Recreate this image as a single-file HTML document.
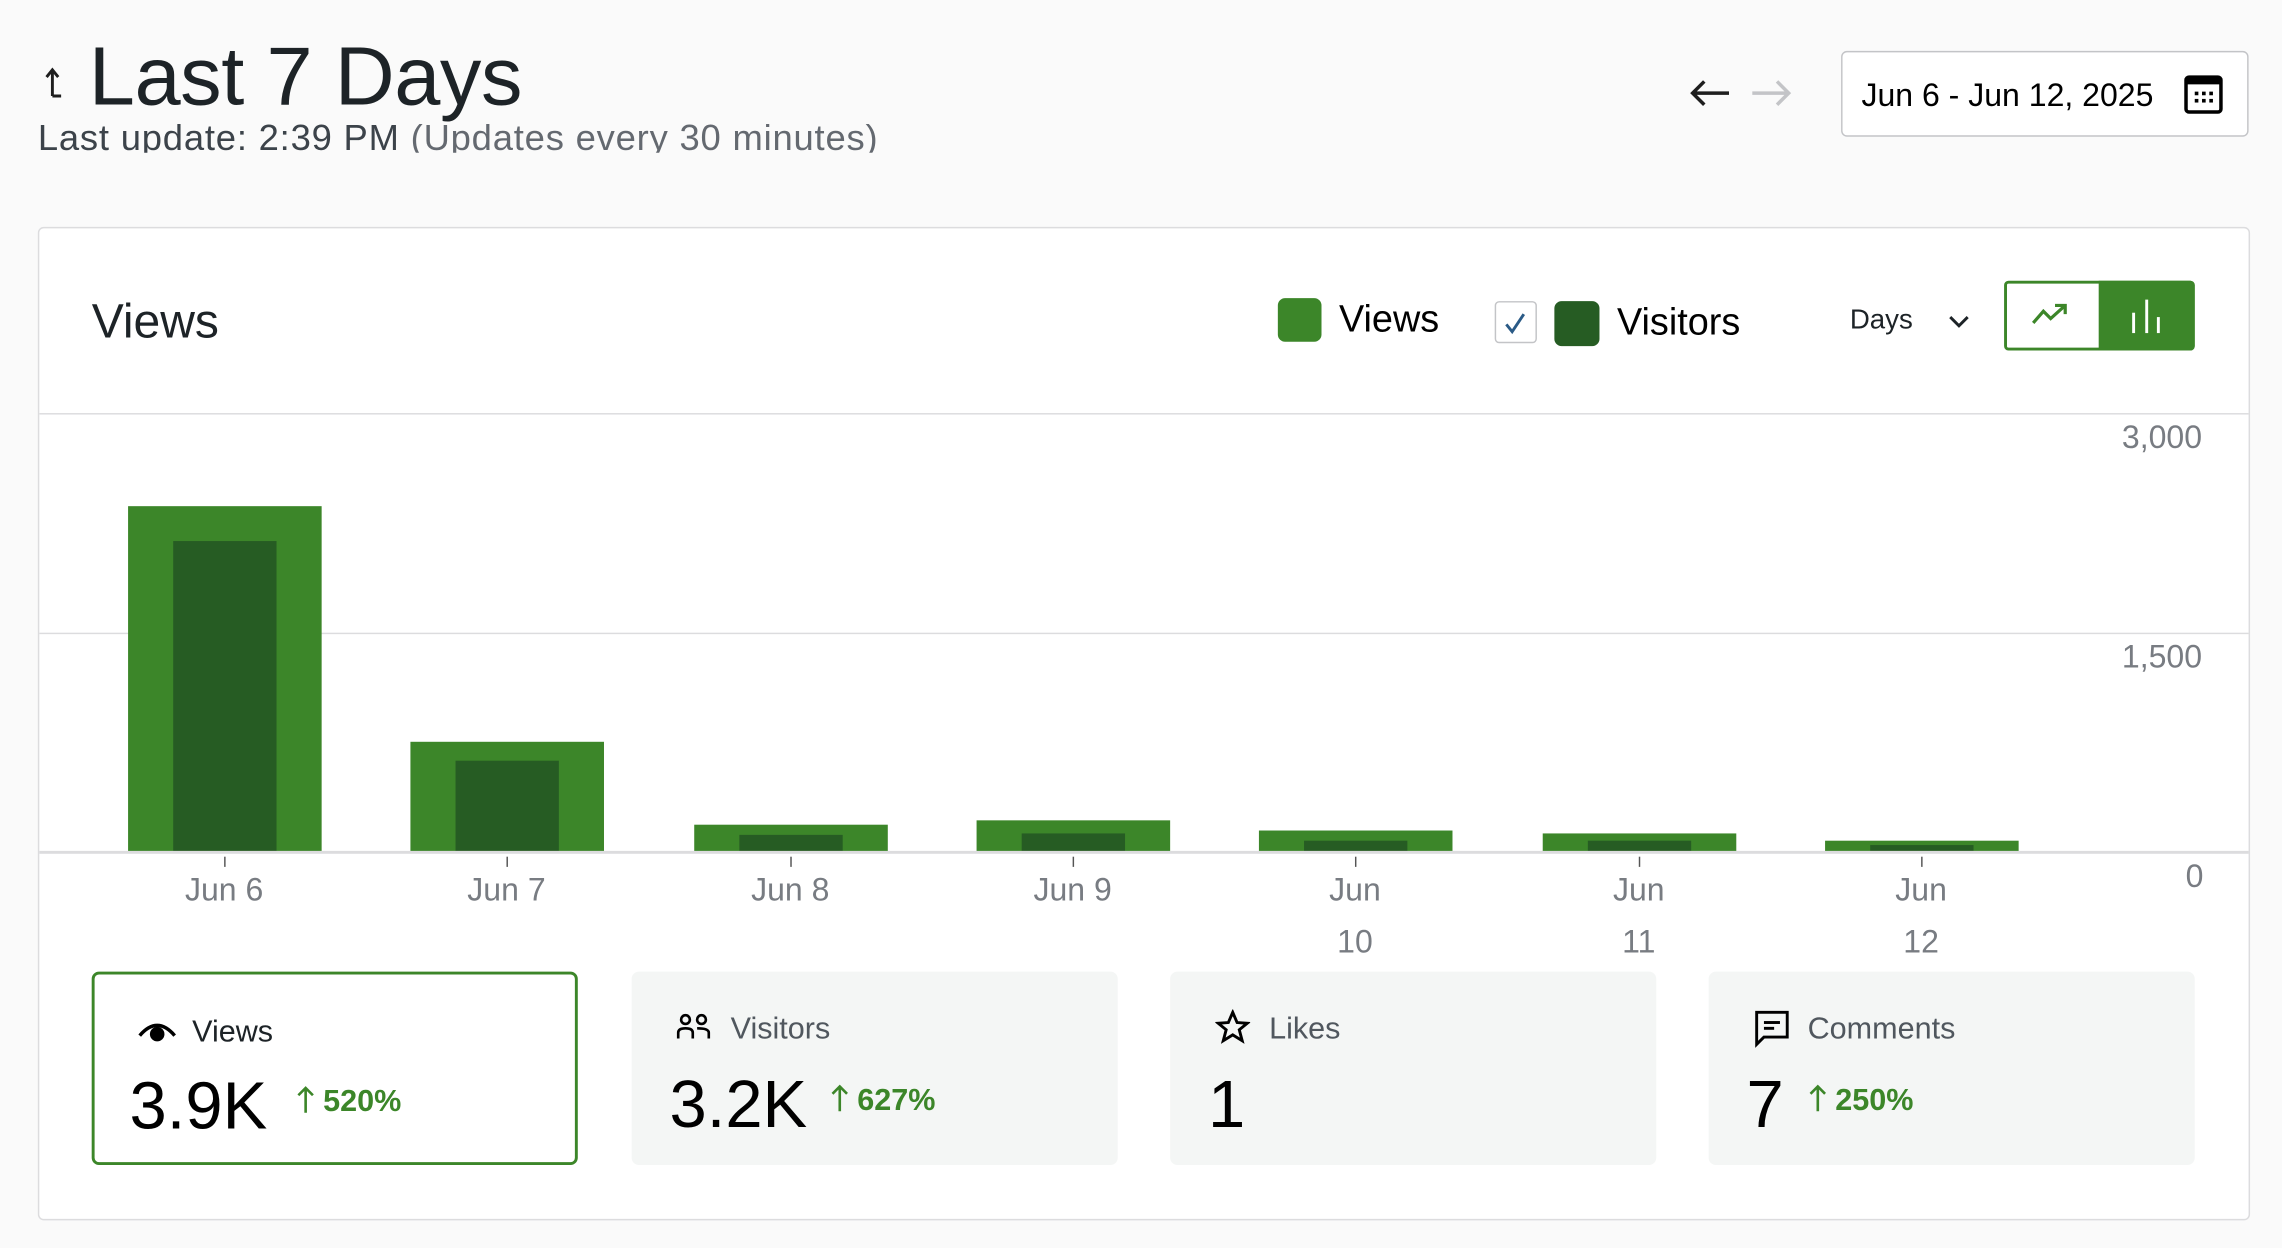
<!DOCTYPE html>
<html><head><meta charset="utf-8"><style>
html,body{margin:0;padding:0;background:#fafafa;}
body{width:2282px;height:1248px;overflow:hidden;font-family:"Liberation Sans",sans-serif;}
#s{position:absolute;left:0;top:0;width:1568px;height:858px;transform:scale(1.4554,1.4545);transform-origin:0 0;}
.a{position:absolute;white-space:nowrap;}
.yl{position:absolute;right:55px;color:#787c82;font-size:22px;}
.xl{position:absolute;width:80px;margin-left:-40px;text-align:center;color:#787c82;font-size:22px;line-height:36px;}
.tk{position:absolute;top:589px;width:1px;height:7px;background:#555;}
.ob{position:absolute;background:#3c8629;width:133px;}
.ib{position:absolute;background:#265c23;width:71px;}
.card{position:absolute;top:668px;width:334px;height:133px;background:#f4f6f5;border-radius:5px;box-sizing:border-box;}
.lab{position:absolute;left:68px;top:28px;font-size:21px;color:#50575e;}
.val{position:absolute;left:26px;top:64px;font-size:46px;color:#000;}
.pct{position:absolute;top:77px;font-size:21px;font-weight:bold;color:#3c8629;}
.pct svg{vertical-align:-2px;margin-right:6px;}
</style></head><body><div id="s">
<svg class="a" style="left:30px;top:44px" width="22" height="26"><path d="M6 22 V4 M2 9 L6 4 L10 9 M6 22 Q6 22 12 22" fill="none" stroke="#1e1e1e" stroke-width="2"/></svg>
<div class="a" style="left:61px;top:20px;font-size:57px;color:#1d2327;letter-spacing:-0.3px;">Last 7 Days</div>
<div class="a" style="left:26px;top:80px;height:25px;overflow:hidden;font-size:25px;line-height:30px;color:#3c434a;letter-spacing:0.55px;">Last update: 2:39 PM <span style="color:#646970">(Updates every 30 minutes)</span></div>
<svg class="a" style="left:1160px;top:53px" width="30" height="22"><path d="M28 11 H3 M11 3 L3 11 L11 19" fill="none" stroke="#1e1e1e" stroke-width="2.4"/></svg>
<svg class="a" style="left:1202px;top:53px" width="30" height="22"><path d="M2 11 H27 M19 3 L27 11 L19 19" fill="none" stroke="#c3c4c7" stroke-width="2.4"/></svg>
<div class="a" style="left:1265px;top:35px;width:280px;height:59px;border:1px solid #c3c4c7;border-radius:4px;background:#fff;box-sizing:border-box;"></div>
<div class="a" style="left:1279px;top:53px;font-size:22px;color:#000;">Jun 6 - Jun 12, 2025</div>
<svg class="a" style="left:1500px;top:51px" width="28" height="28" viewBox="0 0 28 28"><rect x="2" y="2" width="24" height="24" rx="2" fill="none" stroke="#000" stroke-width="2.4"/><rect x="2" y="2" width="24" height="5" fill="#000"/><g fill="#000"><rect x="8" y="12" width="2.5" height="2.5"/><rect x="13" y="12" width="2.5" height="2.5"/><rect x="18" y="12" width="2.5" height="2.5"/><rect x="8" y="17" width="2.5" height="2.5"/><rect x="13" y="17" width="2.5" height="2.5"/><rect x="18" y="17" width="2.5" height="2.5"/></g></svg>

<div class="a" style="left:26px;top:156px;width:1520px;height:683px;background:#fff;border:1px solid #dcdcde;border-radius:4px;box-sizing:border-box;"></div>
<div class="a" style="left:63px;top:202px;font-size:33px;color:#1d2327;">Views</div>
<div class="a" style="left:878px;top:205px;width:30px;height:30px;background:#3c8629;border-radius:5px;"></div>
<div class="a" style="left:920px;top:204px;font-size:26px;color:#000;">Views</div>
<div class="a" style="left:1027px;top:207px;width:29px;height:29px;border:1px solid #c3c4c7;border-radius:3px;box-sizing:border-box;"></div>
<svg class="a" style="left:1031px;top:212px" width="20" height="20"><path d="M4 11 L8 16 L16 4" fill="none" stroke="#2a5a86" stroke-width="2"/></svg>
<div class="a" style="left:1068px;top:207px;width:31px;height:31px;background:#265c23;border-radius:5px;"></div>
<div class="a" style="left:1111px;top:206px;font-size:26px;color:#000;">Visitors</div>
<div class="a" style="left:1271px;top:210px;font-size:19px;color:#1d2327;">Days</div>
<svg class="a" style="left:1337px;top:214px" width="18" height="14"><path d="M3 4 L9 10 L15 4" fill="none" stroke="#1d2327" stroke-width="2"/></svg>
<div class="a" style="left:1377px;top:193px;width:131px;height:48px;border:2px solid #3c8629;border-radius:3px;box-sizing:border-box;background:#fff;"></div>
<div class="a" style="left:1442px;top:193px;width:66px;height:48px;background:#3c8629;border-radius:0 3px 3px 0;"></div>
<svg class="a" style="left:1396px;top:207px" width="28" height="20"><path d="M1 15 L8 7 L13 12 L23 3 M16 3 L23 3 L23 9" fill="none" stroke="#3c8629" stroke-width="2.2"/></svg>
<svg class="a" style="left:1462px;top:203px" width="26" height="28"><g fill="#fff"><rect x="3" y="12" width="2" height="14"/><rect x="12" y="3" width="2" height="23"/><rect x="20" y="15" width="2" height="11"/></g></svg>

<div class="a" style="left:27px;top:284px;width:1518px;height:1px;background:#dcdcde;"></div>
<div class="a" style="left:27px;top:435px;width:1518px;height:1px;background:#dcdcde;"></div>
<div class="yl" style="top:288px;">3,000</div>
<div class="yl" style="top:439px;">1,500</div>
<div class="yl" style="top:590px;right:54px;">0</div>

<div class="ob" style="left:88px;top:348px;height:238px;"></div><div class="ib" style="left:119px;top:372px;height:214px;"></div>
<div class="ob" style="left:282px;top:510px;height:76px;"></div><div class="ib" style="left:313px;top:523px;height:63px;"></div>
<div class="ob" style="left:477px;top:567px;height:19px;"></div><div class="ib" style="left:508px;top:574px;height:12px;"></div>
<div class="ob" style="left:671px;top:564px;height:22px;"></div><div class="ib" style="left:702px;top:573px;height:13px;"></div>
<div class="ob" style="left:865px;top:571px;height:15px;"></div><div class="ib" style="left:896px;top:578px;height:8px;"></div>
<div class="ob" style="left:1060px;top:573px;height:13px;"></div><div class="ib" style="left:1091px;top:578px;height:8px;"></div>
<div class="ob" style="left:1254px;top:578px;height:8px;"></div><div class="ib" style="left:1285px;top:581px;height:5px;"></div>
<div class="a" style="left:27px;top:585px;width:1518px;height:2px;background:#dcdcde;"></div>

<div class="tk" style="left:154px"></div><div class="tk" style="left:348px"></div><div class="tk" style="left:543px"></div><div class="tk" style="left:737px"></div><div class="tk" style="left:931px"></div><div class="tk" style="left:1126px"></div><div class="tk" style="left:1320px"></div>
<div class="xl" style="left:154px;top:594px;">Jun 6</div>
<div class="xl" style="left:348px;top:594px;">Jun 7</div>
<div class="xl" style="left:543px;top:594px;">Jun 8</div>
<div class="xl" style="left:737px;top:594px;">Jun 9</div>
<div class="xl" style="left:931px;top:594px;">Jun<br>10</div>
<div class="xl" style="left:1126px;top:594px;">Jun<br>11</div>
<div class="xl" style="left:1320px;top:594px;">Jun<br>12</div>

<div class="card" style="left:63px;background:#fff;border:2px solid #3c8629;">
 <svg class="a" style="left:29px;top:30px" width="28" height="20"><path d="M2 12 Q14 -2 26 12" fill="none" stroke="#000" stroke-width="2.4"/><circle cx="14" cy="11" r="5" fill="#000"/></svg>
 <div class="lab" style="left:67px;top:28px;color:#1d2327">Views</div>
 <div class="val" style="left:24px;top:63px">3.9K</div>
 <div class="pct" style="left:139px;top:76px"><svg width="12" height="20"><path d="M6 19 V2 M1 7 L6 2 L11 7" fill="none" stroke="#3c8629" stroke-width="1.8"/></svg>520%</div>
</div>
<div class="card" style="left:434px;">
 <svg class="a" style="left:30px;top:28px" width="26" height="22"><circle cx="7" cy="5" r="3" fill="none" stroke="#000" stroke-width="1.8"/><circle cx="18" cy="5" r="3" fill="none" stroke="#000" stroke-width="1.8"/><path d="M2 18 V14 Q2 11 7 11 Q12 11 12 14 V18 M15 11 Q23 11 23 14 V18" fill="none" stroke="#000" stroke-width="1.8"/></svg>
 <div class="lab">Visitors</div>
 <div class="val">3.2K</div>
 <div class="pct" style="left:137px"><svg width="12" height="20"><path d="M6 19 V2 M1 7 L6 2 L11 7" fill="none" stroke="#3c8629" stroke-width="1.8"/></svg>627%</div>
</div>
<div class="card" style="left:804px;">
 <svg class="a" style="left:31px;top:26px" width="24" height="24"><path d="M12 2 L15 9 L22 9.5 L16.5 14 L18.5 21.5 L12 17.5 L5.5 21.5 L7.5 14 L2 9.5 L9 9 Z" fill="none" stroke="#000" stroke-width="2"/></svg>
 <div class="lab">Likes</div>
 <div class="val">1</div>
</div>
<div class="card" style="left:1174px;">
 <svg class="a" style="left:31px;top:26px" width="26" height="28"><path d="M2 2 H23 V19 H7 L2 24 Z" fill="none" stroke="#000" stroke-width="2"/><rect x="7" y="8" width="11" height="2" fill="#000"/><rect x="7" y="12" width="7" height="2" fill="#000"/></svg>
 <div class="lab">Comments</div>
 <div class="val">7</div>
 <div class="pct" style="left:69px"><svg width="12" height="20"><path d="M6 19 V2 M1 7 L6 2 L11 7" fill="none" stroke="#3c8629" stroke-width="1.8"/></svg>250%</div>
</div>
</div></body></html>
